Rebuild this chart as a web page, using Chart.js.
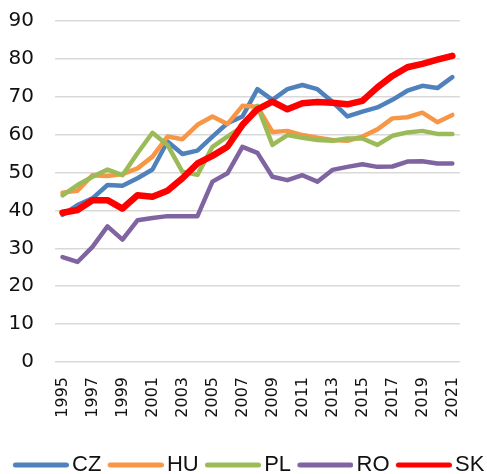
<!DOCTYPE html>
<html>
<head>
<meta charset="utf-8">
<script src="https://cdn.jsdelivr.net/npm/chart.js@4.4.1/dist/chart.umd.min.js"></script>
<style>
html,body{margin:0;padding:0;background:#fff;}
#wrap{width:487px;height:474px;position:relative;}
</style>
</head>
<body>
<div id="wrap"><canvas id="c" width="487" height="474"></canvas></div>
<script>
const years = ['1995','1996','1997','1998','1999','2000','2001','2002','2003','2004','2005','2006','2007','2008','2009','2010','2011','2012','2013','2014','2015','2016','2017','2018','2019','2020','2021'];
const seriesNames = ['CZ','HU','PL','RO','SK'];
const czValues = [38.8,41.4,43.2,46.7,46.5,48.5,50.8,58.2,54.9,55.8,59.5,63.0,64.8,72.0,69.2,72.0,73.1,72.0,68.7,64.8,66.1,67.2,69.2,71.6,72.9,72.3,75.2];
const huValues = [44.7,45.2,49.3,49.1,49.6,51.1,54.2,59.5,58.8,62.6,64.8,62.8,67.6,67.4,60.7,61.0,59.9,59.2,58.6,58.4,59.5,61.4,64.3,64.6,65.8,63.3,65.2];
const plValues = [44.0,46.7,48.9,50.8,49.3,55.1,60.5,57.3,50.2,49.4,56.8,59.5,62.1,67.6,57.3,59.9,59.2,58.6,58.4,59.0,59.0,57.3,59.7,60.6,61.0,60.2,60.2];
const roValues = [27.7,26.4,30.4,35.8,32.3,37.4,38.0,38.5,38.5,38.5,47.6,49.8,56.8,55.2,48.9,48.0,49.3,47.6,50.7,51.5,52.2,51.5,51.6,52.9,53.0,52.4,52.4];
const skValues = [39.4,40.1,42.7,42.7,40.5,44.0,43.6,45.2,48.5,52.4,54.4,56.8,62.6,66.7,68.7,66.7,68.3,68.6,68.4,68.0,68.9,72.5,75.5,77.8,78.7,79.8,80.8];
const yMin = 0, yMax = 90, yStep = 10;

const colors = ['#4F81BD','#F79646','#9BBB59','#8064A2','#FF0000'];
const widths = [4.5,4.5,4.5,4.5,6.5];
const values = [czValues, huValues, plValues, roValues, skValues];

function legendMark(color){
  const c = document.createElement('canvas');
  c.width = 64; c.height = 10;
  const g = c.getContext('2d');
  g.strokeStyle = color; g.lineWidth = 5; g.lineCap = 'round';
  g.beginPath(); g.moveTo(10.5,5); g.lineTo(61.5,5); g.stroke();
  return c;
}
const marks = colors.map(legendMark);

const datasets = seriesNames.map((n,i)=>({
  label: n,
  data: values[i],
  borderColor: colors[i],
  backgroundColor: colors[i],
  borderWidth: widths[i],
  pointRadius: 0,
  pointHoverRadius: 0,
  tension: 0,
  borderJoinStyle: 'round',
  borderCapStyle: 'round',
  fill: false,
  yAxisID: 'y',
  order: seriesNames.length - i
}));

const shiftLegend = {
  id: 'shiftLegend',
  afterLayout(chart){
    const lg = chart.legend;
    if (lg) { lg.left += 5; lg.right += 5; }
  }
};

new Chart(document.getElementById('c'), {
  type: 'line',
  data: { labels: years, datasets },
  plugins: [shiftLegend],
  options: {
    responsive: false,
    animation: false,
    devicePixelRatio: 1,
    layout: { padding: { left: 0, right: 0, top: 21, bottom: -12 } },
    plugins: {
      tooltip: { enabled: false },
      legend: {
        position: 'bottom',
        align: 'center',
        labels: {
          usePointStyle: true,
          pointStyleWidth: 48.5,
          padding: 6,
          color: '#111',
          font: { family: '"Liberation Sans", Arial, sans-serif', size: 22 },
          generateLabels: (chart) => chart.data.datasets.map((ds,i)=>({
            text: ds.label,
            fillStyle: ds.borderColor,
            strokeStyle: ds.borderColor,
            lineWidth: 0,
            pointStyle: marks[i],
            hidden: false,
            datasetIndex: i,
            fontColor: '#111'
          }))
        }
      }
    },
    scales: {
      x: {
        offset: true,
        grid: { display: false, drawTicks: false },
        border: { display: false },
        ticks: {
          autoSkip: false,
          minRotation: 90,
          maxRotation: 90,
          padding: 15,
          color: '#111',
          font: { family: '"DejaVu Sans", sans-serif', size: 16 },
          callback: (v, i) => (i % 2 === 0 ? years[i] : '')
        },
        afterFit: (s) => { s.height = 86; }
      },
      y: {
        position: 'left',
        min: yMin, max: yMax,
        grid: { color: '#d9d9d9', lineWidth: 1.5, drawTicks: false },
        border: { display: false },
        ticks: {
          stepSize: yStep,
          padding: 21,
          color: '#111',
          font: { family: '"DejaVu Sans", sans-serif', size: 20 }
        },
        afterFit: (s) => { s.width = 55; s.paddingTop = 10; s.paddingBottom = 10; }
      },
      yRight: {
        position: 'right',
        display: true,
        min: yMin, max: yMax,
        grid: { display: false, drawTicks: false },
        border: { display: false },
        ticks: { display: false },
        afterFit: (s) => { s.width = 24.5; }
      }
    }
  }
});
</script>
</body>
</html>
